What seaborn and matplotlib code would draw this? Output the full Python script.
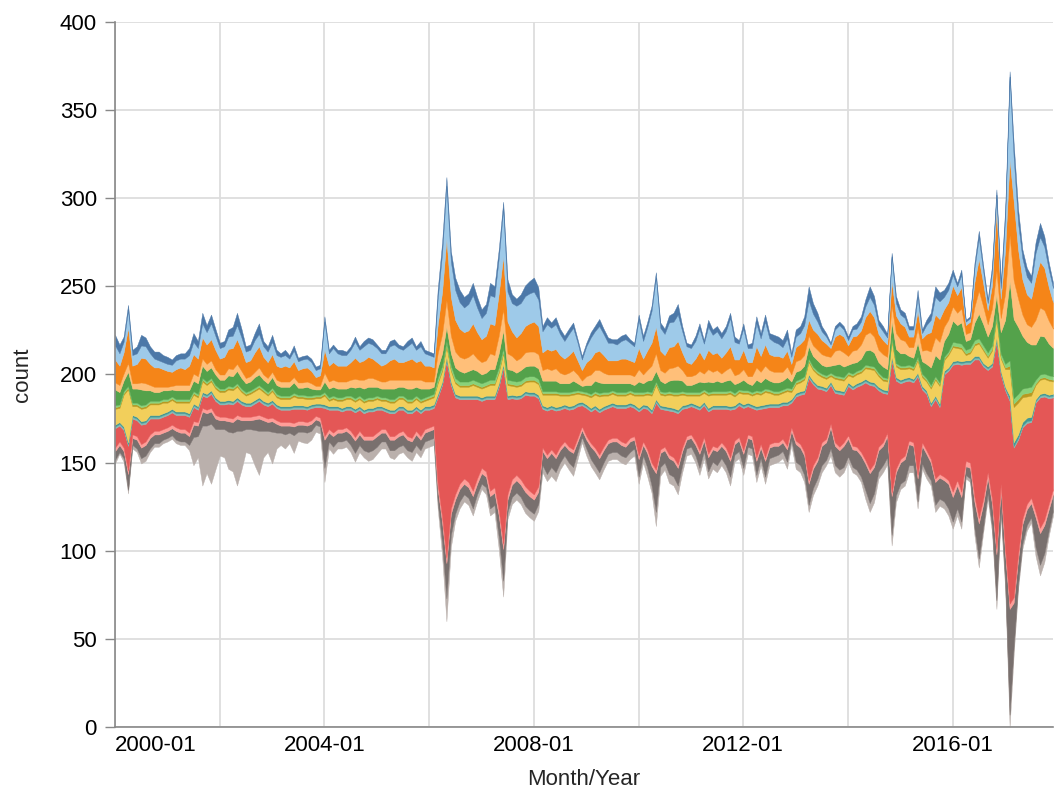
import numpy as np
import pandas as pd
import matplotlib
matplotlib.use("Agg")
import matplotlib.pyplot as plt
import seaborn as sns

# monthly counts per category, Jan 2000 .. Dec 2017
months = pd.date_range("2000-01-01", "2017-12-01", freq="MS")

dark_blue = [
    6, 5, 3, 3, 3, 4, 6, 5, 4, 4, 5, 4,
    4, 3, 3, 3, 3, 4, 5, 4, 6, 4, 5, 4,
    3, 3, 4, 5, 7, 5, 3, 3, 4, 6, 3, 3,
    4, 3, 2, 3, 2, 3, 2, 2, 2, 2, 2, 2,
    3, 2, 2, 2, 3, 2, 2, 3, 2, 3, 3, 3,
    2, 2, 2, 3, 3, 2, 2, 3, 3, 2, 3, 2,
    2, 2, 5, 6, 5, 6, 7, 7, 6, 6, 7, 6,
    5, 5, 7, 6, 5, 4, 7, 5, 4, 5, 6, 7,
    8, 7, 3, 4, 3, 4, 3, 3, 3, 3, 2, 2,
    2, 3, 3, 4, 3, 3, 2, 3, 3, 3, 2, 2,
    3, 3, 3, 3, 3, 3, 3, 4, 5, 6, 3, 2,
    2, 3, 3, 2, 4, 3, 3, 3, 3, 3, 3, 2,
    3, 2, 3, 4, 3, 4, 3, 4, 4, 4, 5, 2,
    4, 4, 5, 8, 6, 5, 3, 2, 1, 2, 2, 2,
    2, 2, 3, 3, 4, 6, 5, 3, 3, 2, 2, 4,
    3, 3, 2, 2, 4, 2, 3, 4, 6, 5, 4, 4,
    3, 2, 3, 1, 1, 3, 4, 3, 2, 3, 3, 3,
    5, 3, 8, 8, 5, 5, 4, 6, 8, 6, 4, 3,
]
light_blue = [
    8, 7, 6, 10, 6, 6, 7, 7, 6, 5, 4, 4,
    4, 4, 5, 5, 6, 6, 7, 6, 8, 7, 9, 8,
    6, 6, 7, 7, 8, 7, 6, 6, 7, 7, 6, 6,
    7, 6, 6, 6, 5, 6, 5, 5, 5, 5, 4, 4,
    16, 7, 8, 7, 6, 6, 7, 9, 7, 8, 8, 8,
    8, 7, 6, 8, 8, 8, 7, 8, 9, 7, 8, 7,
    6, 6, 15, 22, 30, 20, 17, 15, 14, 15, 16, 14,
    12, 13, 16, 16, 20, 27, 17, 16, 18, 17, 17, 17,
    17, 15, 12, 14, 13, 14, 12, 10, 12, 13, 10, 6,
    9, 12, 12, 14, 12, 10, 10, 9, 10, 11, 10, 9,
    16, 10, 13, 18, 28, 13, 12, 14, 14, 15, 12, 9,
    9, 10, 13, 9, 13, 11, 12, 11, 12, 16, 10, 9,
    12, 8, 8, 13, 10, 13, 9, 8, 7, 6, 7, 4,
    6, 6, 8, 11, 9, 7, 5, 4, 2, 4, 5, 4,
    3, 4, 4, 5, 6, 8, 7, 5, 5, 4, 14, 7,
    5, 5, 4, 4, 8, 3, 5, 7, 10, 10, 7, 7,
    6, 5, 7, 2, 2, 8, 12, 7, 4, 8, 8, 6,
    18, 47, 25, 15, 12, 10, 9, 14, 14, 12, 10, 8,
]
orange = [
    13, 11, 12, 20, 10, 11, 14, 14, 12, 11, 11, 10,
    9, 8, 9, 10, 9, 11, 11, 10, 12, 11, 12, 11,
    9, 10, 11, 12, 14, 12, 9, 9, 11, 12, 10, 9,
    10, 8, 8, 9, 8, 9, 7, 8, 8, 7, 5, 6,
    13, 9, 10, 9, 9, 9, 10, 12, 10, 11, 12, 11,
    10, 9, 10, 11, 12, 10, 10, 11, 12, 10, 11, 9,
    9, 8, 16, 24, 35, 22, 18, 16, 15, 15, 17, 15,
    13, 14, 17, 17, 24, 30, 18, 14, 13, 14, 15, 16,
    17, 16, 10, 11, 11, 11, 10, 9, 10, 11, 8, 6,
    8, 9, 10, 11, 10, 8, 8, 8, 9, 9, 8, 8,
    12, 9, 11, 13, 15, 11, 10, 12, 12, 14, 10, 8,
    7, 9, 11, 8, 11, 10, 10, 9, 10, 12, 9, 8,
    11, 8, 8, 12, 9, 12, 9, 9, 9, 8, 9, 6,
    8, 9, 9, 9, 9, 9, 8, 7, 5, 8, 9, 9,
    6, 8, 8, 8, 10, 12, 11, 9, 8, 7, 14, 10,
    9, 8, 6, 6, 10, 7, 9, 11, 13, 13, 10, 10,
    12, 10, 12, 5, 6, 14, 18, 13, 8, 13, 35, 11,
    25, 43, 45, 28, 20, 17, 16, 24, 26, 24, 19, 15,
]
light_orange = [
    4, 4, 4, 5, 3, 3, 4, 4, 3, 3, 3, 2,
    2, 2, 3, 3, 3, 3, 4, 4, 4, 4, 4, 3,
    3, 3, 4, 4, 4, 4, 3, 3, 3, 4, 3, 3,
    3, 3, 3, 3, 3, 3, 3, 3, 3, 3, 2, 2,
    5, 4, 4, 4, 4, 4, 4, 5, 4, 5, 5, 5,
    4, 4, 4, 5, 5, 4, 4, 5, 5, 4, 5, 4,
    4, 3, 8, 11, 15, 10, 9, 8, 8, 8, 9, 7,
    7, 7, 9, 8, 10, 12, 9, 8, 7, 7, 8, 8,
    8, 8, 6, 7, 6, 7, 6, 5, 6, 6, 5, 3,
    5, 6, 6, 7, 6, 5, 5, 5, 5, 5, 5, 5,
    7, 5, 6, 8, 10, 6, 6, 7, 7, 8, 6, 5,
    5, 5, 6, 5, 7, 6, 6, 5, 6, 7, 5, 5,
    6, 4, 5, 7, 6, 7, 6, 6, 6, 5, 6, 4,
    6, 6, 6, 6, 6, 6, 6, 6, 5, 8, 8, 8,
    5, 7, 7, 8, 9, 10, 9, 7, 7, 7, 9, 9,
    8, 7, 5, 6, 8, 6, 8, 9, 10, 10, 8, 8,
    8, 7, 8, 4, 4, 9, 13, 10, 7, 10, 14, 8,
    15, 26, 22, 16, 12, 10, 10, 14, 16, 15, 13, 11,
]
green = [
    9, 7, 6, 8, 8, 8, 9, 8, 6, 5, 5, 5,
    5, 4, 5, 5, 5, 5, 6, 6, 7, 6, 6, 6,
    5, 5, 6, 6, 7, 6, 5, 5, 6, 6, 5, 5,
    6, 5, 5, 5, 5, 6, 4, 4, 5, 4, 3, 3,
    6, 5, 5, 5, 5, 4, 5, 6, 5, 6, 6, 6,
    5, 5, 5, 6, 6, 5, 5, 6, 6, 5, 6, 5,
    4, 4, 6, 7, 8, 7, 6, 6, 5, 6, 6, 6,
    5, 5, 6, 6, 8, 10, 6, 6, 5, 6, 6, 6,
    6, 6, 6, 6, 6, 6, 5, 5, 5, 6, 4, 3,
    4, 5, 6, 6, 5, 5, 4, 5, 5, 5, 4, 4,
    6, 5, 6, 7, 6, 6, 5, 6, 7, 7, 6, 4,
    4, 5, 6, 4, 6, 5, 6, 5, 6, 6, 5, 4,
    6, 4, 4, 6, 5, 6, 5, 5, 5, 5, 6, 4,
    5, 5, 6, 7, 6, 6, 5, 5, 4, 6, 7, 6,
    4, 6, 5, 6, 8, 9, 8, 6, 6, 5, 9, 8,
    7, 7, 5, 5, 8, 7, 8, 10, 12, 13, 9, 10,
    12, 10, 12, 5, 5, 10, 14, 12, 9, 11, 10, 12,
    25, 45, 45, 38, 30, 26, 24, 20, 22, 21, 18, 16,
]
light_green = [
    1, 1, 1, 1, 1, 1, 1, 1, 1, 1, 1, 1,
    1, 1, 1, 1, 1, 1, 1, 1, 1, 1, 1, 1,
    1, 1, 1, 1, 1, 1, 1, 1, 1, 1, 1, 1,
    1, 1, 1, 1, 1, 1, 1, 1, 1, 1, 1, 1,
    1, 1, 1, 1, 1, 1, 1, 1, 1, 1, 1, 1,
    1, 1, 1, 1, 1, 1, 1, 1, 1, 1, 1, 1,
    1, 1, 2, 2, 2, 2, 2, 2, 2, 2, 2, 2,
    2, 2, 2, 2, 2, 2, 2, 2, 2, 2, 2, 2,
    2, 2, 1, 1, 1, 1, 1, 1, 1, 1, 1, 1,
    1, 1, 1, 1, 1, 1, 1, 1, 1, 1, 1, 1,
    1, 1, 1, 1, 1, 1, 1, 1, 1, 1, 1, 1,
    1, 1, 1, 1, 1, 1, 1, 1, 1, 1, 1, 1,
    1, 1, 1, 1, 1, 1, 1, 1, 1, 1, 1, 1,
    1, 1, 1, 1, 1, 1, 1, 1, 1, 1, 1, 1,
    1, 1, 1, 1, 1, 1, 1, 1, 1, 1, 1, 1,
    1, 1, 1, 1, 1, 1, 1, 1, 1, 1, 1, 1,
    2, 2, 2, 2, 2, 2, 2, 2, 2, 2, 2, 2,
    2, 3, 3, 3, 3, 3, 3, 2, 2, 2, 2, 2,
]
olive = [
    1, 1, 1, 1, 1, 1, 1, 1, 1, 1, 1, 1,
    1, 1, 1, 1, 1, 1, 1, 1, 1, 1, 1, 1,
    1, 1, 1, 1, 1, 1, 1, 1, 1, 1, 1, 1,
    1, 1, 1, 1, 1, 1, 1, 1, 1, 1, 1, 1,
    1, 1, 1, 1, 1, 1, 1, 1, 1, 1, 1, 1,
    1, 1, 1, 1, 1, 1, 1, 1, 1, 1, 1, 1,
    1, 1, 1, 1, 1, 1, 1, 1, 1, 1, 1, 1,
    1, 1, 1, 1, 1, 1, 1, 1, 1, 1, 1, 1,
    1, 1, 1, 1, 1, 1, 1, 1, 1, 1, 1, 1,
    1, 1, 1, 1, 1, 1, 1, 1, 1, 1, 1, 1,
    1, 1, 1, 1, 1, 1, 1, 1, 1, 1, 1, 1,
    1, 1, 1, 1, 1, 1, 1, 1, 1, 1, 1, 1,
    1, 1, 1, 1, 1, 1, 1, 1, 1, 1, 1, 1,
    1, 1, 1, 1, 1, 1, 1, 1, 1, 1, 1, 1,
    1, 1, 1, 1, 1, 1, 1, 1, 1, 1, 1, 1,
    1, 1, 1, 1, 1, 1, 1, 1, 1, 1, 1, 1,
    1, 1, 1, 1, 1, 1, 1, 1, 1, 1, 1, 1,
    1, 2, 2, 2, 2, 2, 2, 1, 1, 1, 1, 1,
]
yellow = [
    9, 8, 18, 30, 5, 6, 7, 7, 6, 6, 6, 6,
    5, 5, 5, 5, 5, 6, 5, 5, 6, 5, 5, 5,
    5, 5, 6, 6, 6, 5, 4, 5, 5, 5, 5, 4,
    5, 4, 4, 4, 4, 5, 4, 4, 4, 3, 3, 3,
    5, 3, 4, 3, 4, 4, 4, 4, 4, 4, 4, 4,
    4, 3, 4, 4, 4, 4, 4, 4, 4, 4, 4, 3,
    4, 4, 6, 6, 6, 6, 6, 5, 5, 5, 6, 5,
    5, 5, 6, 6, 6, 6, 6, 5, 5, 5, 5, 6,
    6, 6, 6, 7, 6, 7, 6, 5, 6, 6, 5, 4,
    5, 6, 6, 7, 6, 5, 5, 5, 5, 5, 5, 5,
    7, 5, 6, 8, 8, 6, 6, 7, 7, 8, 6, 5,
    4, 5, 6, 5, 7, 6, 6, 6, 6, 7, 5, 5,
    6, 5, 5, 7, 6, 7, 6, 5, 5, 5, 6, 4,
    5, 5, 6, 7, 6, 6, 5, 5, 3, 6, 6, 6,
    4, 5, 5, 5, 6, 7, 7, 6, 5, 5, 9, 6,
    6, 5, 5, 5, 7, 5, 5, 8, 9, 10, 6, 7,
    8, 7, 7, 3, 4, 6, 7, 7, 5, 7, 11, 7,
    10, 15, 20, 18, 14, 12, 12, 8, 8, 8, 8, 7,
]
teal = [
    1, 1, 1, 1, 1, 1, 1, 1, 1, 1, 1, 1,
    1, 1, 1, 1, 1, 1, 1, 1, 1, 1, 1, 1,
    1, 1, 1, 1, 1, 1, 1, 1, 1, 1, 1, 1,
    1, 1, 1, 1, 1, 1, 1, 1, 1, 1, 1, 1,
    1, 1, 1, 1, 1, 1, 1, 1, 1, 1, 1, 1,
    1, 1, 1, 1, 1, 1, 1, 1, 1, 1, 1, 1,
    1, 1, 1, 1, 1, 1, 1, 1, 1, 1, 1, 1,
    1, 1, 1, 1, 1, 1, 1, 1, 1, 1, 1, 1,
    1, 1, 1, 1, 1, 1, 1, 1, 1, 1, 1, 1,
    1, 1, 1, 1, 1, 1, 1, 1, 1, 1, 1, 1,
    1, 1, 1, 1, 1, 1, 1, 1, 1, 1, 1, 1,
    1, 1, 1, 1, 1, 1, 1, 1, 1, 1, 1, 1,
    1, 1, 1, 1, 1, 1, 1, 1, 1, 1, 1, 1,
    1, 1, 1, 1, 1, 1, 1, 1, 1, 1, 1, 1,
    1, 1, 1, 1, 1, 1, 1, 1, 1, 1, 1, 1,
    1, 1, 1, 1, 1, 1, 1, 1, 1, 1, 1, 1,
    1, 1, 1, 1, 1, 1, 1, 1, 1, 1, 1, 1,
    1, 2, 2, 2, 2, 2, 2, 1, 1, 1, 1, 1,
]
light_teal = [
    1, 1, 1, 1, 1, 1, 1, 1, 1, 1, 1, 1,
    1, 1, 1, 1, 1, 1, 1, 1, 1, 1, 1, 1,
    1, 1, 1, 1, 1, 1, 1, 1, 1, 1, 1, 1,
    1, 1, 1, 1, 1, 1, 1, 1, 1, 1, 1, 1,
    1, 1, 1, 1, 1, 1, 1, 1, 1, 1, 1, 1,
    1, 1, 1, 1, 1, 1, 1, 1, 1, 1, 1, 1,
    1, 1, 1, 1, 1, 1, 1, 1, 1, 1, 1, 1,
    1, 1, 1, 1, 1, 1, 1, 1, 1, 1, 1, 1,
    1, 1, 1, 1, 1, 1, 1, 1, 1, 1, 1, 1,
    1, 1, 1, 1, 1, 1, 1, 1, 1, 1, 1, 1,
    1, 1, 1, 1, 1, 1, 1, 1, 1, 1, 1, 1,
    1, 1, 1, 1, 1, 1, 1, 1, 1, 1, 1, 1,
    1, 1, 1, 1, 1, 1, 1, 1, 1, 1, 1, 1,
    1, 1, 1, 1, 1, 1, 1, 1, 1, 1, 1, 1,
    1, 1, 1, 1, 1, 1, 1, 1, 1, 1, 1, 1,
    1, 1, 1, 1, 1, 1, 1, 1, 1, 1, 1, 1,
    1, 1, 1, 1, 1, 1, 1, 1, 1, 1, 1, 1,
    1, 1, 1, 1, 1, 1, 1, 1, 1, 1, 1, 1,
]
red = [
    11, 9, 10, 14, 9, 9, 11, 10, 9, 7, 7, 7,
    7, 7, 7, 8, 8, 9, 8, 7, 7, 7, 8, 8,
    7, 7, 8, 8, 8, 7, 6, 6, 7, 8, 7, 7,
    8, 7, 7, 7, 7, 8, 7, 7, 7, 7, 5, 6,
    16, 11, 13, 11, 10, 10, 12, 14, 12, 13, 14, 14,
    13, 11, 10, 13, 13, 13, 12, 13, 14, 12, 13, 11,
    10, 10, 49, 75, 112, 70, 55, 48, 45, 47, 52, 45,
    38, 41, 52, 50, 70, 100, 54, 46, 43, 46, 52, 54,
    56, 50, 22, 25, 23, 25, 21, 19, 21, 23, 18, 12,
    16, 18, 22, 24, 21, 18, 18, 17, 19, 20, 18, 16,
    25, 19, 23, 28, 38, 23, 21, 25, 26, 29, 22, 16,
    16, 19, 23, 18, 24, 21, 22, 19, 22, 27, 18, 18,
    24, 16, 16, 27, 20, 28, 21, 20, 20, 19, 23, 14,
    25, 28, 33, 58, 46, 39, 30, 27, 22, 28, 30, 27,
    28, 32, 34, 38, 44, 48, 44, 32, 28, 22, 75, 50,
    43, 42, 34, 34, 56, 30, 32, 30, 45, 38, 58, 62,
    72, 66, 72, 55, 56, 78, 90, 75, 58, 75, 118, 62,
    90, 115, 85, 65, 52, 46, 43, 62, 74, 70, 60, 52,
]
pink = [
    2, 2, 2, 2, 2, 2, 2, 2, 2, 2, 2, 2,
    2, 2, 2, 2, 2, 2, 2, 2, 2, 2, 2, 2,
    2, 2, 2, 2, 2, 2, 2, 2, 2, 2, 2, 2,
    2, 2, 2, 2, 2, 2, 2, 2, 2, 2, 2, 2,
    2, 2, 2, 2, 2, 2, 2, 2, 2, 2, 2, 2,
    2, 2, 2, 2, 2, 2, 2, 2, 2, 2, 2, 2,
    2, 2, 3, 3, 3, 3, 3, 3, 3, 3, 3, 3,
    3, 3, 3, 3, 3, 3, 3, 3, 3, 3, 3, 3,
    3, 3, 2, 2, 2, 2, 2, 2, 2, 2, 2, 2,
    2, 2, 2, 2, 2, 2, 2, 2, 2, 2, 2, 2,
    2, 2, 2, 2, 2, 2, 2, 2, 2, 2, 2, 2,
    2, 2, 2, 2, 2, 2, 2, 2, 2, 2, 2, 2,
    2, 2, 2, 2, 2, 2, 2, 2, 2, 2, 2, 2,
    2, 2, 2, 2, 2, 2, 2, 2, 2, 2, 2, 2,
    2, 2, 2, 2, 2, 2, 2, 2, 2, 2, 2, 2,
    2, 2, 2, 2, 2, 2, 2, 2, 2, 2, 2, 2,
    3, 3, 3, 3, 3, 3, 3, 3, 3, 3, 3, 3,
    3, 3, 3, 3, 3, 3, 3, 3, 3, 3, 3, 3,
]
gray = [
    5, 4, 4, 9, 4, 5, 6, 6, 6, 5, 5, 4,
    4, 4, 5, 5, 5, 5, 7, 6, 8, 7, 7, 6,
    5, 5, 6, 6, 7, 6, 5, 5, 6, 7, 6, 5,
    6, 5, 4, 5, 4, 5, 4, 4, 4, 4, 3, 3,
    16, 5, 6, 5, 5, 5, 6, 7, 6, 6, 7, 6,
    6, 5, 5, 6, 6, 6, 6, 6, 6, 6, 6, 5,
    5, 5, 7, 12, 20, 12, 8, 7, 6, 6, 7, 6,
    6, 6, 7, 7, 12, 18, 7, 7, 7, 7, 8, 8,
    8, 7, 8, 9, 8, 8, 7, 6, 7, 8, 6, 4,
    5, 7, 8, 8, 7, 6, 6, 6, 6, 6, 6, 5,
    10, 6, 8, 11, 22, 8, 7, 9, 9, 10, 8, 5,
    5, 6, 8, 6, 8, 7, 8, 7, 8, 9, 6, 6,
    8, 5, 5, 8, 6, 9, 6, 6, 5, 5, 7, 5,
    10, 10, 11, 12, 11, 10, 11, 10, 12, 11, 11, 12,
    10, 10, 11, 12, 15, 17, 15, 12, 11, 12, 22, 13,
    12, 12, 12, 11, 13, 10, 11, 10, 13, 12, 12, 14,
    14, 13, 14, 5, 6, 15, 20, 13, 9, 13, 26, 11,
    16, 60, 25, 14, 11, 9, 8, 17, 18, 16, 12, 9,
]
light_gray = [
    2, 1, 2, 2, 2, 2, 3, 3, 2, 2, 2, 2,
    2, 2, 2, 2, 2, 3, 16, 12, 34, 27, 34, 23,
    15, 16, 21, 22, 31, 22, 13, 14, 20, 25, 15, 12,
    18, 9, 7, 8, 6, 10, 5, 6, 6, 5, 4, 4,
    8, 4, 4, 4, 4, 4, 4, 5, 4, 4, 5, 5,
    4, 4, 4, 4, 5, 4, 4, 4, 5, 4, 4, 4,
    4, 4, 4, 7, 13, 7, 4, 4, 4, 4, 4, 4,
    3, 4, 4, 4, 7, 9, 4, 4, 4, 4, 4, 4,
    4, 4, 4, 4, 5, 5, 4, 4, 4, 5, 4, 3,
    4, 4, 4, 4, 4, 4, 4, 4, 4, 4, 4, 4,
    4, 4, 5, 4, 8, 5, 4, 5, 5, 5, 4, 4,
    4, 4, 4, 4, 4, 4, 4, 4, 4, 5, 4, 4,
    4, 4, 4, 4, 4, 4, 4, 4, 4, 4, 4, 3,
    4, 4, 4, 4, 4, 4, 4, 3, 4, 4, 4, 3,
    3, 3, 3, 3, 5, 5, 5, 4, 4, 4, 6, 4,
    3, 3, 4, 4, 4, 3, 3, 3, 4, 4, 4, 4,
    4, 4, 4, 2, 2, 4, 5, 3, 3, 3, 5, 4,
    4, 7, 5, 3, 3, 3, 3, 5, 6, 5, 3, 3,
]

# bottom of the stream first
series = [light_gray, gray, pink, red, light_teal, teal, yellow, olive,
          light_green, green, light_orange, orange, light_blue, dark_blue]
colors = ["#bab0ac", "#79706e", "#ff9d98", "#e45756", "#83bcb6", "#439894",
          "#f2cf5b", "#b79a20", "#88d27a", "#54a24b", "#ffbf79", "#f58518",
          "#9ecae9", "#4c78a8"]

sns.set_theme(style="white")
plt.rcParams["font.family"] = ["Liberation Sans", "DejaVu Sans"]

fig = plt.figure(figsize=(10.56, 7.94), dpi=100)
ax = fig.add_axes([0.1089, 0.0844, 0.8883, 0.8879])

stack = np.array(series, dtype=float)
total = stack.sum(axis=0)
# centre offset: each month is shifted so the stream is centred on max/2
lower = (total.max() - total) / 2
for vals, col in zip(stack, colors):
    upper = lower + vals
    ax.fill_between(months, lower, upper, color=col, lw=0.3, edgecolor=col)
    lower = upper

ax.set_xlim(months[0], months[-1])
ax.set_ylim(0, 400)
ax.set_yticks(range(0, 401, 50))

tick_dates = pd.date_range("2000-01-01", "2016-01-01", freq="24MS")
ax.set_xticks(tick_dates)
labels = ax.set_xticklabels([d.strftime("%Y-%m") if d.year % 4 == 0 else ""
                             for d in tick_dates])
labels[0].set_horizontalalignment("left")

ax.set_axisbelow(True)
ax.grid(True, color="#dddddd", lw=1.3)
ax.tick_params(axis="x", length=0, pad=6, labelsize=16, colors="black")
ax.tick_params(axis="y", length=7, width=1, color="#888888", pad=6,
               labelsize=16, labelcolor="black", left=True)
for side in ["top", "right"]:
    ax.spines[side].set_visible(False)
for side in ["left", "bottom"]:
    ax.spines[side].set_color("#888888")
    ax.spines[side].set_linewidth(1.2)

ax.set_xlabel("Month/Year", fontsize=16, labelpad=9)
ax.set_ylabel("count", fontsize=16, labelpad=19)

fig.savefig("out.png", dpi=100)
